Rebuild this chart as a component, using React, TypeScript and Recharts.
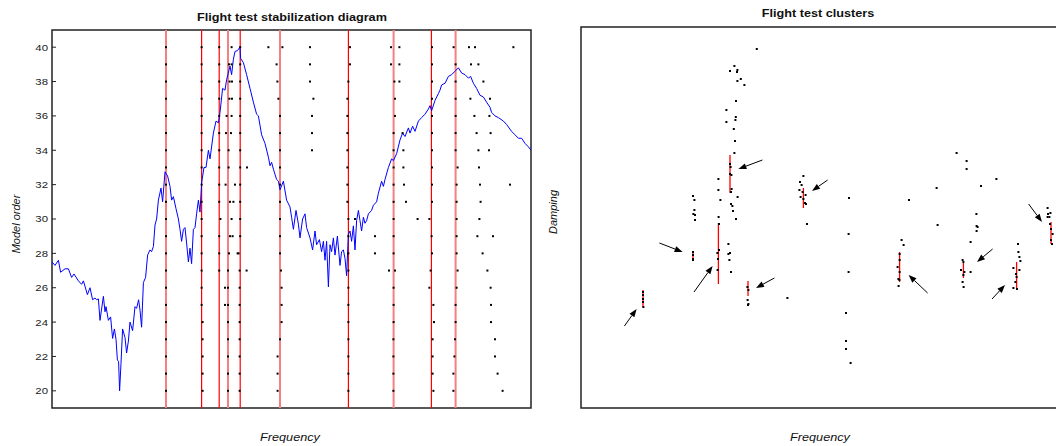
import React from 'react';
import {
  ComposedChart,
  Line,
  Scatter,
  XAxis,
  YAxis,
  ReferenceLine,
  ReferenceArea,
} from 'recharts';

const FONT = '"Liberation Sans", Arial, Helvetica, sans-serif';

// ---- stabilization diagram (left) ----
const orderTicks = [20, 22, 24, 26, 28, 30, 32, 34, 36, 38, 40];

// mode lines picked by the stabilization (frequency)
const modesLight = [57, 88, 114, 170.8, 201.8];
const modesRed = [74.8, 83.6, 94.1, 148.2, 189.7];

// PSD-like curve drawn on the model-order scale: [frequency, value]
const spectrum: [number, number][] = [
  [0, 27.5], [1.5, 27.3], [3.2, 27.6], [4.3, 26.9], [6.5, 27.1], [8.2, 27.1], [9.8, 26.6],
  [11, 26.8], [13.2, 26.4], [14.8, 26.2], [15.7, 26.4], [17.7, 25.6], [19, 26.0], [20.3, 25.3],
  [21.5, 25.4], [22.3, 25.3], [23.2, 25.35], [24, 24.1], [25.7, 25.5], [26.5, 24.6], [27, 24.9],
  [28.2, 24.1], [29.3, 24.3], [30.3, 23.05], [31.2, 23.6], [32, 23.0], [32.7, 21.8], [33.3, 21.7],
  [33.8, 20.0], [34.5, 21.6], [35.3, 23.6], [36.5, 23.1], [37.3, 22.2], [38.2, 22.9], [39, 24.0],
  [40.3, 23.5], [41.5, 24.9], [42.3, 24.8], [43.3, 25.3], [44, 24.7], [44.8, 23.7], [45.7, 26.3],
  [46.8, 26.6], [47.8, 27.9], [49, 28.2], [49.8, 28.1], [50.7, 28.4], [51.5, 29.65], [52.3, 30.0],
  [53.2, 31.1], [54.5, 31.8], [55.3, 31.0], [56.5, 32.75], [57.8, 32.5], [59, 31.9], [59.8, 31.1],
  [60.7, 31.3], [62, 30.6], [63.2, 30.0], [64, 29.4], [64.8, 28.7], [65.7, 29.4], [66.5, 29.5],
  [67.3, 28.6], [68.2, 27.5], [69, 28.3], [69.8, 27.4], [70.7, 29.4], [71.5, 29.5], [72.3, 30.3],
  [73.2, 31.1], [74, 30.4], [74.8, 32.1], [76, 33.0], [77, 33.0], [78.2, 34.0], [79, 33.5],
  [80.7, 35.0], [82, 35.7], [83.2, 35.6], [84, 36.2], [85.3, 37.6], [86.5, 37.5], [87.3, 38.1],
  [89, 38.9], [89.8, 38.4], [90.7, 39.3], [91.5, 39.75], [92.7, 39.8], [94, 40.0], [94.3, 39.35],
  [95.7, 39.1], [97.3, 38.4], [99, 37.6], [100.7, 36.8], [102.3, 36.1], [103.2, 36.0], [104.8, 34.9],
  [106.5, 34.4], [108.2, 33.6], [109, 33.1], [109.8, 33.3], [110.7, 32.9], [112.3, 32.3],
  [113.2, 32.2], [114, 31.7], [115.7, 32.2], [117.3, 31.1], [119, 30.7], [119.8, 30.1],
  [120.7, 29.4], [122, 30.5], [123.2, 29.7], [124, 28.9], [125.3, 30.0], [126.5, 30.3],
  [127.3, 29.5], [129, 28.9], [130.3, 28.2], [131.5, 29.3], [132.3, 28.5], [133.7, 28.8],
  [134.8, 28.1], [135.7, 28.7], [136.5, 27.6], [137.3, 28.7], [138.2, 26.05], [139, 28.5],
  [139.8, 28.1], [140.7, 28.9], [141.5, 27.9], [142.7, 29.0], [144, 27.3], [144.8, 28.1],
  [145.7, 28.2], [146.5, 27.7], [147.3, 26.7], [148.2, 29.1], [149, 29.3], [149.8, 28.7],
  [150.7, 29.6], [151.5, 28.2], [152.3, 29.9], [153.2, 30.5], [154, 29.9], [154.8, 29.3],
  [155.7, 30.1], [156.5, 29.75], [157.3, 29.9], [158.2, 30.3], [159.8, 30.5], [160.7, 30.8],
  [162.3, 31.0], [163.2, 31.5], [164.8, 32.2], [165.7, 31.9], [166.5, 32.3], [168.2, 33.0],
  [169.8, 33.5], [170.7, 33.4], [172.3, 33.8], [174, 34.6], [175.3, 35.0], [176.5, 34.8],
  [178.2, 35.3], [179, 35.0], [180.3, 35.4], [181.5, 35.1], [183.2, 35.7], [184.8, 35.9],
  [186.5, 36.1], [188.2, 36.4], [189, 36.6], [189.8, 36.3], [191.5, 36.9], [193.2, 37.3],
  [194, 37.5], [194.8, 37.8], [196.5, 37.9], [198.2, 38.3], [199.8, 38.4], [201.5, 38.6],
  [203.2, 38.8], [204.8, 38.5], [206.5, 38.4], [208.2, 38.2], [209.3, 38.3], [210.7, 37.9],
  [212.3, 37.6], [214, 37.2], [215.7, 37.1], [217.3, 36.8], [219, 36.5], [219.8, 36.2],
  [221.5, 36.0], [223.2, 35.9], [225.7, 35.7], [227.3, 35.5], [229.8, 35.1], [231.5, 34.9],
  [233.2, 34.7], [234.8, 34.7], [236.5, 34.4], [238.2, 34.2], [239.5, 34.0],
];

// poles found at each model order: [order, frequencies]
const poles: [number, number[]][] = [
  [40, [57, 74.8, 83.6, 89.8, 94.1, 108.2, 115.2, 129, 149, 169.5, 173.7, 190, 200.8, 208.5, 211.5, 230.7]],
  [39, [57, 74.8, 83.6, 88.5, 89.8, 94.1, 112.3, 129, 149, 169.5, 173.7, 190, 201.8, 209.5, 213.2]],
  [38, [57, 74.8, 83.6, 88.8, 90, 94.1, 112.7, 129, 148.2, 171.2, 173.7, 190, 201.8, 215.7]],
  [37, [57, 74.8, 83.6, 88.7, 90, 94.1, 113.2, 130.7, 147.7, 171.5, 190, 201.8, 209.2, 219]],
  [36, [57, 74.8, 83.6, 87.3, 89.8, 94.1, 114, 130, 147.7, 171.5, 190, 201.8, 211.2, 218.7]],
  [35, [57, 74.8, 83.6, 87, 89.5, 94.1, 114, 130, 147.7, 170.8, 175.3, 190, 201.8, 212.3, 219.3]],
  [34, [57, 74.8, 83.6, 88.3, 94.1, 114, 130, 147.7, 170.8, 175.7, 190, 201.8, 213.2, 218.5]],
  [33, [57, 74.8, 83.6, 88.3, 94.1, 97.5, 114, 147.7, 170.8, 175.7, 190, 202.8, 213.5]],
  [32, [57, 74.8, 83.6, 86.8, 91.5, 94.1, 114, 147.7, 170.8, 176, 190, 202.3, 214, 229]],
  [31, [57, 74.8, 83.6, 89, 90.7, 94.1, 114, 147.7, 170.8, 177, 190, 202.3, 214.3]],
  [30, [57, 74.8, 84.2, 89.8, 94.1, 114, 148.2, 151.5, 170.8, 182.8, 188.7, 202.3, 213.7]],
  [29, [57, 74.8, 83.6, 89, 90.3, 94.1, 114, 148.2, 161.5, 170.8, 189.8, 202.3, 212.7, 220.5]],
  [28, [57, 74.8, 83.6, 88.5, 92.8, 93.3, 114, 148.2, 161.5, 170.8, 190, 202.3, 215.3]],
  [27, [57, 74.8, 83.6, 88, 93.8, 97.3, 114.5, 148.2, 168.5, 171.5, 189.3, 202.8, 217.7]],
  [26, [57, 74.8, 86.5, 88, 93.8, 114.8, 148.2, 170.8, 188.7, 202.3, 219.3]],
  [25, [57, 74.8, 86.5, 88, 93.8, 114.8, 148.2, 170.8, 190.7, 201.8, 219.5]],
  [24, [57, 75.3, 88, 93.8, 114.8, 148.2, 170.8, 191, 201.8, 219.5]],
  [23, [57, 75.3, 88, 93.8, 114, 148.2, 170.7, 190.3, 201.5, 221.5]],
  [22, [57, 75.3, 88, 93.8, 112.8, 148.2, 170.7, 190.3, 201.2, 221.5]],
  [21, [57, 75.3, 88, 93.8, 112.8, 148.2, 170.7, 190.3, 200.7, 222.8]],
  [20, [57, 75.3, 88, 93.8, 112.8, 148.2, 170.7, 190.7, 200.7, 225.3]],
];

// ---- clusters (right): [frequency, damping %] ----
const clusterPoints: [number, number][] = [
  [87.9, 3.59], [76.7, 3.42], [74.5, 3.37], [78.2, 3.38], [78, 3.36], [78.2, 3.27], [79.9, 3.29],
  [81.7, 3.23], [77.5, 3.07], [72.7, 2.98], [77.4, 2.91], [77.2, 2.88], [72.7, 2.86], [76.4, 2.79],
  [77, 2.67], [76.7, 2.55], [74.5, 2.44], [74.8, 2.41], [74.5, 2.34], [75.2, 2.33], [75.3, 2.19],
  [75, 2.16], [68.7, 2.29], [68.7, 2.18], [69.7, 2.08], [78.3, 2.11], [75, 2.04], [75.7, 2.02],
  [76, 1.97], [77.5, 1.89], [68.8, 1.91], [69, 1.84], [56, 2.12], [56.7, 2.08], [56.7, 1.98],
  [57, 1.93], [56.2, 1.94], [57, 1.88], [113, 1.84],
  [111.2, 2.32], [109.5, 2.26], [110.3, 2.23], [109.2, 2.18], [110.8, 2.16], [112.3, 2.13],
  [109.8, 2.11], [111.2, 2.09], [112, 2.05], [112.5, 2.04],
  [187.8, 2.55], [192.8, 2.47], [192.8, 2.39], [207.7, 2.29], [200, 2.22], [177.8, 2.2],
  [134, 2.1], [164, 2.08], [197.7, 1.94], [233.3, 2.0], [234.7, 1.95], [233.3, 1.91],
  [56, 1.56], [56, 1.53], [56, 1.49], [56, 1.48],
  [68.2, 1.55], [68.5, 1.49], [68.3, 1.38], [69, 1.58],
  [73.7, 1.64], [74.5, 1.55], [73.7, 1.54], [74.2, 1.48], [75, 1.36],
  [83.2, 1.21], [83.7, 1.18], [83.3, 1.08], [83.7, 1.04], [83.5, 1.03], [103.2, 1.1],
  [31, 1.16], [31, 1.13], [31, 1.09], [31, 1.06], [31.2, 1.01],
  [133.8, 1.74], [178.3, 1.83], [133.8, 1.36], [132.5, 0.95], [132.5, 0.67], [132.5, 0.59],
  [134.8, 0.45],
  [160.3, 1.68], [161.3, 1.63], [159.3, 1.54], [159.3, 1.48], [158.3, 1.41], [159.3, 1.36],
  [158.7, 1.29], [159.2, 1.28], [158.8, 1.22],
  [197.8, 1.82], [198.3, 1.81], [197.8, 1.77], [194.8, 1.66], [194.8, 1.36],
  [190.8, 1.48], [191.2, 1.46], [190, 1.38], [191.7, 1.36], [191.2, 1.33], [190.8, 1.26],
  [191.3, 1.21],
  [218.5, 1.64], [218.7, 1.56], [219.2, 1.51], [219.7, 1.47], [216.2, 1.4], [219.2, 1.38],
  [217.5, 1.34], [217.8, 1.31], [217.2, 1.26], [216.2, 1.2], [218, 1.19],
  [233.5, 1.94], [234.2, 1.91], [234.5, 1.84], [235, 1.79], [235.8, 1.74], [235, 1.68],
  [235.5, 1.64],
];

// cluster spread: [frequency, damping low, damping high]
const clusterBars: [number, number, number][] = [
  [74.5, 2.15, 2.53], [111.2, 2.0, 2.2], [56, 1.49, 1.56], [68.7, 1.24, 1.85],
  [83.5, 1.12, 1.27], [31, 1.01, 1.18], [159.3, 1.26, 1.56], [191.2, 1.3, 1.45],
  [217.8, 1.19, 1.46], [235, 1.64, 1.86],
];

// arrows: [from f, from d, to f, to d]
const arrows: [number, number, number, number][] = [
  [90.7, 2.48, 78.7, 2.39], [123.3, 2.28, 115.5, 2.17], [39.2, 1.65, 50.8, 1.56],
  [56.5, 1.16, 65.8, 1.42], [96.7, 1.3, 87.5, 1.2], [21.7, 0.82, 27.8, 0.99],
  [173.3, 1.15, 163.8, 1.33], [205.8, 1.59, 198, 1.46], [205.5, 1.09, 212, 1.23],
  [223.8, 2.04, 230.5, 1.86],
];

const spectrumData = spectrum.map(([f, m]) => ({ f, m }));
const poleData = poles.flatMap(([m, fs]) => fs.map((f) => ({ f, m })));
const clusterData = clusterPoints.map(([f, d]) => ({ f, d }));

const Dot = (props: any) => (
  <rect x={props.cx - 1} y={props.cy - 1} width={2} height={2} fill="#000" />
);

const LeftTick = (props: any) => {
  const { x, y, payload } = props;
  const ax = x + 4;
  return (
    <g>
      <line x1={ax} x2={ax + 4} y1={y} y2={y} stroke="#222" />
      <g transform={`translate(${x} ${y}) scale(1.2 1)`}>
        <text x={0} y={0} dy={3.4} textAnchor="end" fontSize={9.5} fill="#222" fontFamily={FONT}>
          {payload.value}
        </text>
      </g>
    </g>
  );
};

const RightTick = (props: any) => {
  const { x, y } = props;
  return <line x1={x - 4} x2={x} y1={y} y2={y} stroke="#222" />;
};

const Arrow = (props: any) => {
  const { x1, y1, x2, y2 } = props;
  const ang = Math.atan2(y2 - y1, x2 - x1);
  const len = 8;
  const w = 3;
  const bx = x2 - len * Math.cos(ang);
  const by = y2 - len * Math.sin(ang);
  const px = -Math.sin(ang) * w;
  const py = Math.cos(ang) * w;
  return (
    <g>
      <line x1={x1} y1={y1} x2={bx} y2={by} stroke="#000" strokeWidth={1} />
      <polygon points={`${x2},${y2} ${bx + px},${by + py} ${bx - px},${by - py}`} fill="#000" />
    </g>
  );
};

const txt: React.CSSProperties = {
  position: 'absolute',
  fontFamily: FONT,
  color: '#111',
  whiteSpace: 'nowrap',
  lineHeight: '13px',
  fontSize: 11,
};

export default function App() {
  return (
    <div
      style={{
        position: 'fixed',
        left: 0,
        top: 0,
        width: 1056,
        height: 446,
        overflow: 'hidden',
        background: '#fff',
      }}
    >
      <div style={{ position: 'absolute', left: 0, top: 0 }}>
        <ComposedChart width={540} height={446} margin={{ top: 30, right: 0, bottom: 38, left: 0 }}>
          <XAxis dataKey="f" type="number" domain={[0, 239.5]} allowDataOverflow hide />
          <YAxis
            dataKey="m"
            type="number"
            domain={[19, 41]}
            allowDataOverflow
            ticks={orderTicks}
            width={52}
            axisLine={false}
            tickLine={false}
            tickSize={0}
            tickMargin={4}
            tick={<LeftTick />}
          />
          <YAxis
            yAxisId="r"
            orientation="right"
            type="number"
            domain={[19, 41]}
            ticks={orderTicks}
            width={9}
            axisLine={false}
            tickLine={false}
            tickSize={0}
            tickMargin={0}
            tick={<RightTick />}
          />
          {modesLight.map((f) => (
            <ReferenceLine key={`l${f}`} x={f} stroke="#f58080" strokeWidth={2} />
          ))}
          {modesRed.map((f) => (
            <ReferenceLine key={`r${f}`} x={f} stroke="#ff0000" strokeWidth={1.2} />
          ))}
          <Line
            data={spectrumData}
            dataKey="m"
            type="linear"
            stroke="#0000ff"
            strokeWidth={1}
            dot={false}
            isAnimationActive={false}
          />
          <Scatter data={poleData} dataKey="m" shape={<Dot />} isAnimationActive={false} />
          <ReferenceArea x1={0} x2={239.5} y1={19} y2={41} fill="none" stroke="#222" strokeWidth={1.5} />
        </ComposedChart>
      </div>

      <div style={{ position: 'absolute', left: 540, top: 0 }}>
        <ComposedChart width={540} height={446} margin={{ top: 27, right: 19, bottom: 38, left: 41 }}>
          <XAxis dataKey="f" type="number" domain={[0, 240]} allowDataOverflow hide />
          <YAxis dataKey="d" type="number" domain={[0, 3.81]} allowDataOverflow hide />
          {clusterBars.map(([f, lo, hi]) => (
            <ReferenceLine
              key={`b${f}`}
              segment={[{ x: f, y: lo }, { x: f, y: hi }]}
              stroke="#ff0000"
              strokeWidth={1.3}
            />
          ))}
          <Scatter data={clusterData} dataKey="d" shape={<Dot />} isAnimationActive={false} />
          {arrows.map(([f0, d0, f1, d1]) => (
            <ReferenceLine
              key={`a${f0}`}
              segment={[{ x: f0, y: d0 }, { x: f1, y: d1 }]}
              shape={Arrow}
            />
          ))}
          <ReferenceArea x1={0} x2={240} y1={0} y2={3.81} fill="none" stroke="#222" strokeWidth={1.5} />
        </ComposedChart>
      </div>

      <div style={{ ...txt, left: 291.5, top: 11, fontWeight: 'bold', transform: 'translateX(-50%) scaleX(1.15)' }}>
        Flight test stabilization diagram
      </div>
      <div style={{ ...txt, left: 818, top: 7, fontWeight: 'bold', transform: 'translateX(-50%) scaleX(1.15)' }}>
        Flight test clusters
      </div>
      <div style={{ ...txt, left: 16, top: 223.5, fontStyle: 'italic', transform: 'translate(-50%, -50%) rotate(-90deg)' }}>
        Model order
      </div>
      <div style={{ ...txt, left: 553, top: 212, fontStyle: 'italic', transform: 'translate(-50%, -50%) rotate(-90deg)' }}>
        Damping
      </div>
      <div style={{ ...txt, left: 290, top: 431, fontStyle: 'italic', transform: 'translateX(-50%) scaleX(1.15)' }}>
        Frequency
      </div>
      <div style={{ ...txt, left: 820, top: 431, fontStyle: 'italic', transform: 'translateX(-50%) scaleX(1.15)' }}>
        Frequency
      </div>
    </div>
  );
}
